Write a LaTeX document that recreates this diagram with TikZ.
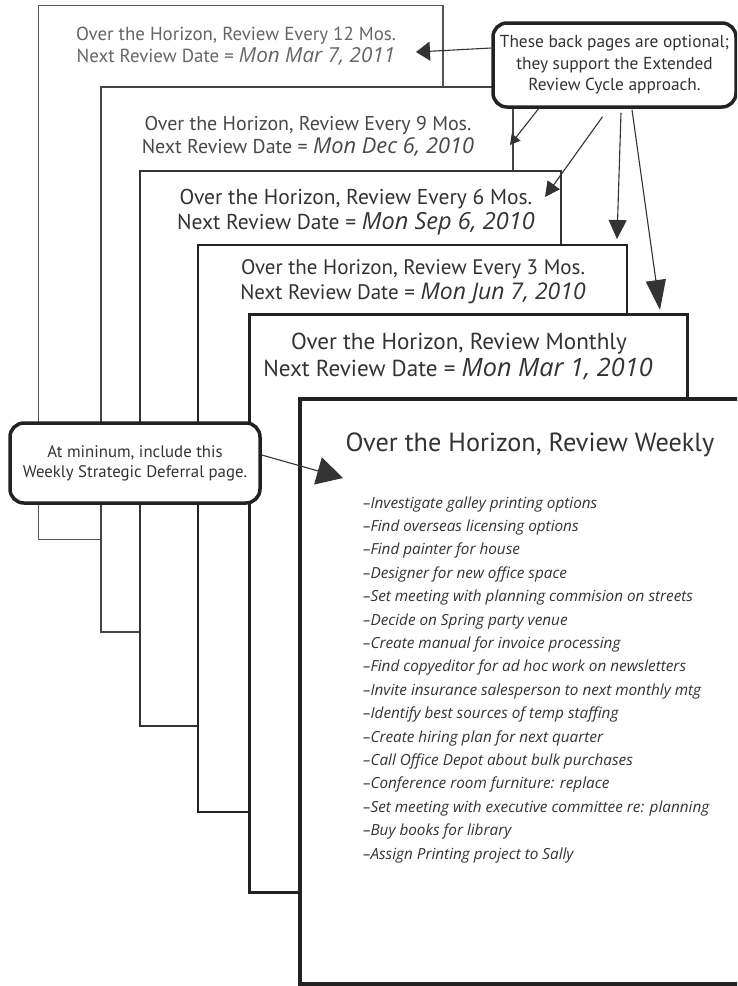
\documentclass[tikz,border=0pt]{standalone}
\usepackage{fontspec}
\setmainfont[Scale=1.05]{PT Sans}
\newfontfamily\hand[Scale=1.15]{Open Sans}
\usetikzlibrary{arrows.meta,calc}
\definecolor{inkA}{HTML}{333333}
\definecolor{inkB}{HTML}{666666}
\definecolor{inkC}{HTML}{484848}
\definecolor{lineA}{HTML}{555555}
\definecolor{lineB}{HTML}{444444}
\definecolor{lineC}{HTML}{222222}
\newcommand{\hd}[1]{{\hand\itshape #1}}
\tikzset{
  page/.style={draw, fill=white, rectangle, anchor=north west, inner sep=0pt, outer sep=0pt},
  ttl/.style={inner sep=0pt, text=inkA, anchor=base},
  item/.style={inner sep=0pt, anchor=base west, text=inkA, font=\hand\itshape\fontsize{13.3}{15}\selectfont},
  callout/.style={draw=lineC, fill=white, rounded corners=14pt, line width=3.5pt, align=center, text=inkA, inner sep=0pt},
  conn/.style={draw=inkA, line width=1.1pt},
}
\begin{document}
\begin{tikzpicture}[x=1pt,y=-1pt]
\clip (0,0) rectangle (737,986);
\fill[white] (0,0) rectangle (737,986);
% pages
\node[page, draw=lineA, line width=1.2pt, minimum width=404.5pt, minimum height=534pt] (p1) at (38.5,5.5) {};
\node[page, draw=lineB, line width=1.6pt, minimum width=412pt, minimum height=545pt] (p2) at (101,87) {};
\node[page, draw=inkA, line width=2pt, minimum width=421.5pt, minimum height=555pt] (p3) at (139.5,171) {};
\node[page, draw=lineC, line width=2.4pt, minimum width=429pt, minimum height=567pt] (p4) at (198,245) {};
\node[page, draw=lineC, line width=3pt, minimum width=438pt, minimum height=578pt] (p5) at (249,314) {};
\node[page, draw=lineC, line width=4pt, minimum width=460pt, minimum height=585pt] (p6) at (300,399) {};
% page texts
\node[ttl, text=inkB, font=\fontsize{18}{22}\selectfont] (t1) at (236,40) {Over the Horizon, Review Every 12 Mos.};
\node[ttl, text=inkB, font=\fontsize{18}{22}\selectfont] (d1) at (236,62) {Next Review Date = \hd{Mon Mar 7, 2011}};
\node[ttl, text=inkC, font=\fontsize{19}{22}\selectfont] (t2) at (308,130) {Over the Horizon, Review Every 9 Mos.};
\node[ttl, text=inkC, font=\fontsize{19}{22}\selectfont] (d2) at (308,153) {Next Review Date = \hd{Mon Dec 6, 2010}};
\node[ttl, font=\fontsize{20.5}{24}\selectfont] (t3) at (356,204) {Over the Horizon, Review Every 6 Mos.};
\node[ttl, font=\fontsize{20.5}{24}\selectfont] (d3) at (356,229) {Next Review Date = \hd{Mon Sep 6, 2010}};
\node[ttl, font=\fontsize{20}{24}\selectfont] (t4) at (413,274) {Over the Horizon, Review Every 3 Mos.};
\node[ttl, font=\fontsize{20}{24}\selectfont] (d4) at (413,299) {Next Review Date = \hd{Mon Jun 7, 2010}};
\node[ttl, font=\fontsize{22}{26}\selectfont] (t5) at (459,349) {Over the Horizon, Review Monthly};
\node[ttl, font=\fontsize{22}{26}\selectfont] (d5) at (458,376) {Next Review Date = \hd{Mon Mar 1, 2010}};
\node[ttl, font=\fontsize{25}{30}\selectfont] (t6) at (530,451) {Over the Horizon, Review Weekly};
% list
\foreach \txt [count=\i from 0] in {%
  –Investigate galley printing options,
  –Find overseas licensing options,
  –Find painter for house,
  –Designer for new office space,
  –Set meeting with planning commision on streets,
  –Decide on Spring party venue,
  –Create manual for invoice processing,
  –Find copyeditor for ad hoc work on newsletters,
  –Invite insurance salesperson to next monthly mtg,
  –Identify best sources of temp staffing,
  –Create hiring plan for next quarter,
  –Call Office Depot about bulk purchases,
  –Conference room furniture: replace,
  –Set meeting with executive committee re: planning,
  –Buy books for library,
  –Assign Printing project to Sally}
  \node[item] (l\i) at (363,{508+23.4*\i}) {\txt};
% callouts
\node[callout, minimum width=243pt, minimum height=84pt, font=\fontsize{16.5}{21.5}\selectfont] (cb) at (614.5,65) {These back pages are optional;\\they support the Extended\\Review Cycle approach.};
\node[callout, minimum width=250pt, minimum height=80pt, font=\fontsize{16}{20}\selectfont] (cl) at (135,463) {At mininum, include this\\Weekly Strategic Deferral page.};
% arrow targets
\coordinate (tip1) at (416,52);
\coordinate (tip2) at (510,145);
\coordinate (tip3) at (545,197);
\coordinate (tip4) at (617,239);
\coordinate (tip5) at (660,310);
\coordinate (tip6) at (343,478);
% arrows
\draw[conn, -{Triangle[length=14pt,width=19pt,fill=inkA]}] ([yshift=17pt]cb.west) -- (tip1);
\draw[conn, -{Triangle[length=10pt,width=11pt,fill=inkA]}] ([xshift=-76pt]cb.south) -- (tip2);
\draw[conn, -{Triangle[length=15pt,width=15pt,fill=inkA]}] ([xshift=-12pt,yshift=-8pt]cb.south) -- (tip3);
\draw[conn, -{Triangle[length=19pt,width=18pt,fill=inkA]}] ([xshift=6.5pt,yshift=-4pt]cb.south) -- (tip4);
\draw[conn, -{Triangle[length=30pt,width=20pt,fill=inkA]}] ([xshift=17.5pt,yshift=-1pt]cb.south) -- (tip5);
\draw[conn, -{Triangle[length=26pt,width=28pt,fill=inkA]}] ([yshift=8pt]cl.east) -- (tip6);
\end{tikzpicture}
\end{document}
